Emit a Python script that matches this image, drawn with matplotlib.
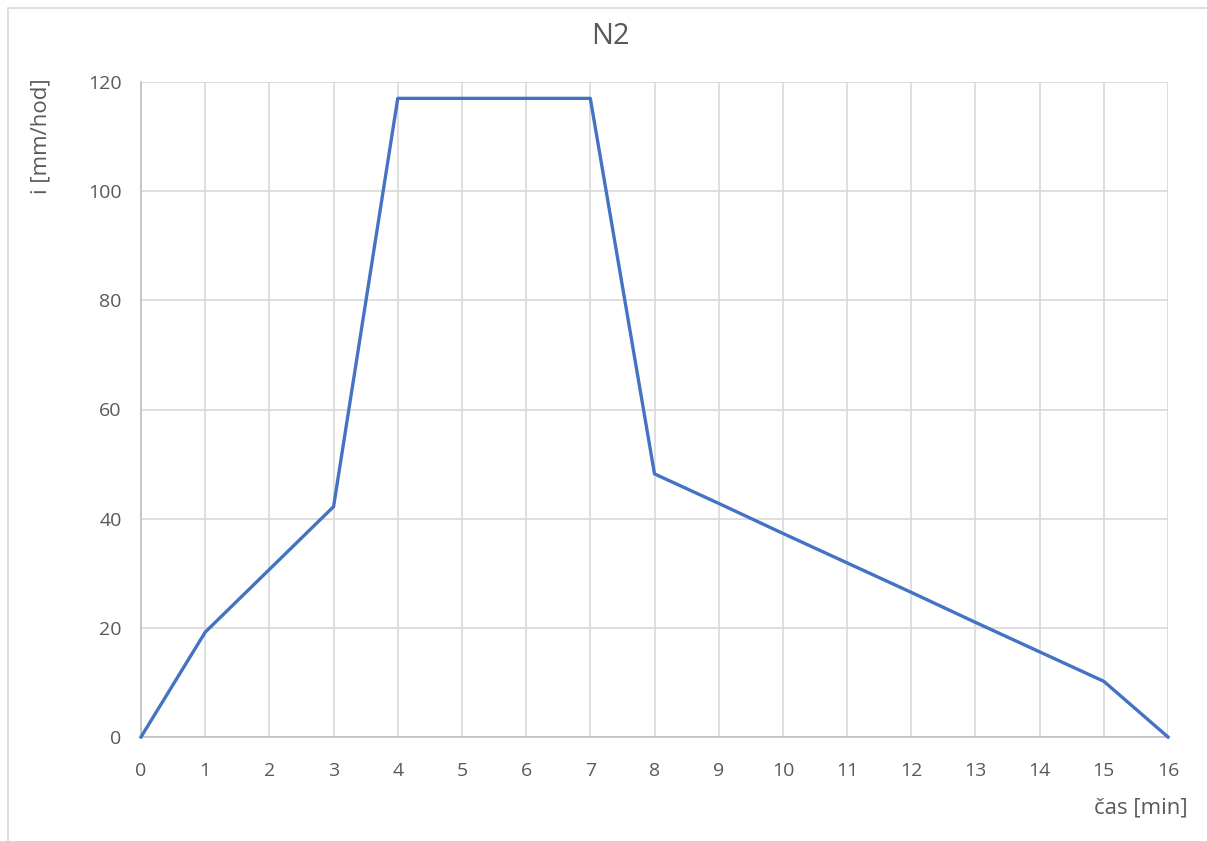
import matplotlib.pyplot as plt
from matplotlib.patches import Rectangle

# data
cas_min = [0, 1, 2, 3, 4, 5, 6, 7, 8, 9, 10, 11, 12, 13, 14, 15, 16]
intenzita = [0, 19.2, 30.7, 42.2, 117, 117, 117, 117, 48.2, 42.8, 37.3,
             31.9, 26.5, 21.0, 15.6, 10.2, 0]
x_ticks = list(range(0, 17))
y_ticks = [0, 20, 40, 60, 80, 100, 120]

text_color = '#595959'
grid_color = '#d9d9d9'

plt.rcParams['font.family'] = ['Open Sans', 'DejaVu Sans']

fig = plt.figure(figsize=(12.07, 8.41), dpi=100)
ax = fig.add_axes([141 / 1207, 1 - 737 / 841, 1027 / 1207, 655 / 841])

# outer chart border (Excel-like)
fig.patches.append(Rectangle((8 / 1207, -0.1), 1.2, 1 - 8 / 841 + 0.1,
                             transform=fig.transFigure, fill=False,
                             edgecolor=grid_color, linewidth=1.2))

ax.plot(cas_min, intenzita, color='#4472C4', linewidth=2.4,
        solid_joinstyle='round', clip_on=False, zorder=3)

ax.set_xlim(0, 16)
ax.set_ylim(0, 120)
ax.set_xticks(x_ticks)
ax.set_yticks(y_ticks)
ax.grid(True, color=grid_color, linewidth=1.2)
ax.set_axisbelow(True)

for side in ['top', 'right']:
    ax.spines[side].set_visible(False)
for side in ['left', 'bottom']:
    ax.spines[side].set_color('#bfbfbf')
    ax.spines[side].set_linewidth(1.2)

ax.tick_params(length=0, labelsize=14, colors=text_color)
ax.tick_params(axis='x', pad=18)
ax.tick_params(axis='y', pad=14)

fig.text(610 / 1207, 1 - 37 / 841, 'N2', ha='center', va='center',
         fontsize=21, color=text_color)
fig.text(41 / 1207, 1 - 136 / 841, 'i [mm/hod]', ha='center', va='center',
         rotation=90, fontsize=16, color=text_color)
fig.text(1141 / 1207, 1 - 808 / 841, 'čas [min]', ha='center', va='center',
         fontsize=16, color=text_color)

plt.savefig('out.png', dpi=100)
